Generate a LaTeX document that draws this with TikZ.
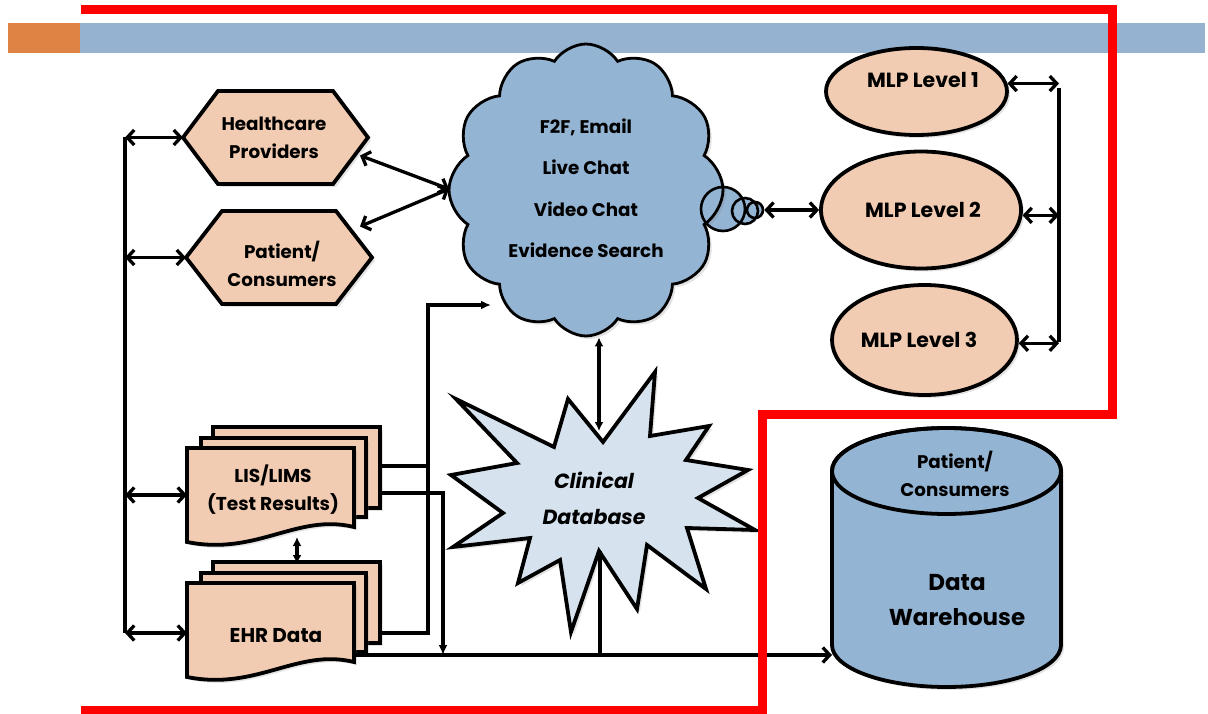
\documentclass[tikz,border=0pt]{standalone}
\usepackage{fontspec}
\setmainfont{Poppins}
\usetikzlibrary{arrows.meta,calc,shapes.geometric,shapes.symbols,shadows}
\definecolor{bandblue}{RGB}{149,179,209}
\definecolor{bandorange}{RGB}{222,131,68}
\definecolor{peach}{RGB}{241,204,178}
\definecolor{skyfill}{RGB}{148,180,211}
\definecolor{starfill}{RGB}{214,227,239}
\definecolor{framered}{RGB}{255,0,0}
\begin{document}
\begin{tikzpicture}[x=1pt,y=-1pt,
  geo/.style={rectangle,inner sep=0pt,outer sep=0pt},
  shad/.style={drop shadow={shadow xshift=3pt,shadow yshift=-3pt,opacity=0.22}},
  blk/.style={draw=black,line width=3.8pt,line join=miter},
  hexa/.style={blk,fill=peach,shad},
  docpage/.style={blk,fill=peach,shad},
  ell/.style={ellipse,draw=black,line width=3.8pt,fill=peach,inner sep=0pt,shad},
  bub/.style={circle,draw=black,line width=2.6pt,inner sep=0pt},
  txt/.style={font=\bfseries\fontsize{18.3}{28}\selectfont,align=center,inner sep=0pt},
  lvltxt/.style={font=\bfseries\fontsize{20.5}{28}\selectfont,align=center,inner sep=0pt},
  cloudtxt/.style={font=\bfseries\fontsize{18.3}{41.5}\selectfont,align=center,inner sep=0pt},
  startxt/.style={font=\bfseries\itshape\fontsize{20.5}{36}\selectfont,align=center,inner sep=0pt},
  bigtxt/.style={font=\bfseries\fontsize{23}{35}\selectfont,align=center,inner sep=0pt},
  wire/.style={line width=3.3pt,line join=miter},
  dbl/.style={wire,{Straight Barb[length=7pt,width=15pt]}-{Straight Barb[length=7pt,width=15pt]}},
  fwd/.style={wire,-{Straight Barb[length=7pt,width=15pt]}},
  headed/.style={wire,-{Latex[length=10pt,width=9pt]}},
  dheaded/.style={wire,{Latex[length=9pt,width=9pt]}-{Latex[length=9pt,width=9pt]}}
]
\useasboundingbox (0,0) rectangle (1208,714);

% title band
\fill[bandorange] (8,23) rectangle (80,53);
\fill[bandblue] (80,23) rectangle (1205,53);

% hexagons
\node[geo,minimum width=185pt,minimum height=93pt] (hp) at (275.5,137.5) {};
\path[hexa] (hp.west) -- ($(hp.north west)+(35,0)$) -- ($(hp.north east)+(-35,0)$) -- (hp.east)
  -- ($(hp.south east)+(-35,0)$) -- ($(hp.south west)+(35,0)$) -- cycle;
\node[txt] (hpt) at (274,138) {Healthcare\\Providers};

\node[geo,minimum width=186pt,minimum height=93pt] (pc) at (279,257.5) {};
\path[hexa] (pc.west) -- ($(pc.north west)+(36,0)$) -- ($(pc.north east)+(-36,0)$) -- (pc.east)
  -- ($(pc.south east)+(-36,0)$) -- ($(pc.south west)+(36,0)$) -- cycle;
\node[txt] (pct) at (282,264) {Patient/\\Consumers};

% cloud with thought bubbles
\fill[skyfill] (723,209) circle[radius=22] (745,211) circle[radius=13] (755,210) circle[radius=8];
\node[cloud,cloud puffs=12,cloud puff arc=115,aspect=0.95,minimum width=274pt,minimum height=292pt,
  draw=black,line width=2.8pt,fill=skyfill,shad] (cl) at (586,190) {};
\node[bub,minimum size=44pt] (b1) at (723,209) {};
\node[bub,minimum size=26pt] (b2) at (745,211) {};
\node[bub,minimum size=16pt] (b3) at (755,210) {};
\node[cloudtxt] (clt) at (586,188) {F2F, Email\\Live Chat\\Video Chat\\Evidence Search};

% MLP levels
\node[ell,minimum width=181pt,minimum height=87pt] (m1) at (916.5,91.5) {};
\node[lvltxt] (m1t) at (923,80) {MLP Level 1};
\node[ell,minimum width=200pt,minimum height=117pt] (m2) at (921,210) {};
\node[lvltxt] (m2t) at (923,210) {MLP Level 2};
\node[ell,minimum width=185pt,minimum height=110pt] (m3) at (924.5,340) {};
\node[lvltxt] (m3t) at (919,340) {MLP Level 3};

% document stacks
\newcommand\docstack[2]{%
  \path[docpage] (#1+26,#2-21) rectangle (#1+193,#2+60);
  \path[docpage] (#1+14,#2-10) rectangle (#1+179,#2+69);
  \path[docpage] (#1,#2) -- (#1+167,#2) -- (#1+167,#2+79)
    .. controls (#1+110,#2+65) and (#1+70,#2+108) .. (#1,#2+94) -- cycle;}
\docstack{187}{448}
\node[geo,minimum width=167pt,minimum height=94pt] (lis) at (270.5,495) {};
\node[txt,font=\bfseries\fontsize{18.6}{28}\selectfont] (list) at (273,490) {LIS/LIMS\\(Test Results)};
\docstack{187}{583}
\node[geo,minimum width=167pt,minimum height=95pt] (ehr) at (270.5,631) {};
\node[lvltxt,font=\bfseries\fontsize{20}{28}\selectfont] (ehrt) at (276,636) {EHR Data};

% clinical database
\path[blk,fill=starfill,shad] (603,442) -- (655,372) -- (650,436) -- (709,426) -- (686,460) -- (748,470)
  -- (698,498) -- (755,530) -- (687,528) -- (706,589) -- (647,545) -- (637,609) -- (599,551)
  -- (571,632) -- (560,560) -- (518,583) -- (530,538) -- (453,547) -- (503,513) -- (451,475)
  -- (517,463) -- (456,399) -- (554,447) -- (568,399) -- cycle;
\node[startxt] (cdb) at (594,498) {Clinical\\Database};
\coordinate (sTop) at (599,431);
\coordinate (sBot) at (600,551);

% data warehouse
\node[geo,minimum width=229pt,minimum height=259pt] (dw) at (946.5,557.5) {};
\path[blk,fill=skyfill,shad] (832,471) -- (832,645) arc[start angle=180,end angle=0,x radius=114.5,y radius=42]
  -- (1061,471) arc[start angle=0,end angle=-180,x radius=114.5,y radius=43] -- cycle;
\draw[line width=3.8pt] (946.5,471) ellipse[x radius=114.5,y radius=43];
\node[txt] (dwtop) at (955,474) {Patient/\\Consumers};
\node[bigtxt] (dwt) at (957,600) {Data\\Warehouse};

% left bus
\coordinate (lbTop) at (125,137.5);
\coordinate (lbBot) at (125,633);
\draw[wire] (lbTop) -- (lbBot);
\draw[dbl] (lbTop) -- (hp.west);
\draw[dbl] (lbTop |- pc.west) -- (pc.west);
\draw[dbl] (lbTop |- lis.west) -- (lis.west);
\draw[dbl] (lbBot) -- (lbBot -| ehr.west);

% right bus
\coordinate (rbTop) at (1059,88);
\coordinate (rbBot) at (1059,342);
\draw[wire] (rbTop) -- (rbBot);
\draw[dbl] (m1.5) -- (m1.5 -| rbTop);
\draw[dbl] (m2.-3) -- (m2.-3 -| rbTop);
\draw[dbl] (m3.-2) -- (m3.-2 -| rbTop);

% cloud links
\coordinate (clW) at (449,189);
\coordinate (hpSE) at ($(hp.east)+(-8,18)$);
\coordinate (pcNE) at ($(pc.east)+(-12,-31)$);
\draw[dbl] (clW) -- (hpSE);
\draw[dbl] (clW) -- (pcNE);
\draw[dbl] (b3.east) -- (m2.west);
\draw[dheaded] (sTop |- cl.south) -- (sTop);

% data flows from the record stacks
\coordinate (lisO1) at (380,466);
\coordinate (lisO2) at (380,493);
\coordinate (ehrO1) at (380,633);
\coordinate (ehrO2) at (354,655);
\coordinate (riser) at (428,305);
\coordinate (clIn) at (491,305);
\coordinate (drop) at (443,655);
\draw[headed] (ehrO1) -| (riser) -- (clIn);
\draw[wire] (lisO1) -- (lisO1 -| riser);
\draw[headed] (lisO2) -| (drop);
\draw[dheaded] (297,537) -- (297,564);
\draw[fwd] (ehrO2) -- (ehrO2 -| dw.west);
\draw[wire] (sBot) -- (sBot |- ehrO2);

% highlight frame
\draw[framered,line width=9pt,line join=miter] (81,10) -- (1112,10) -- (1112,414) -- (762,414)
  -- (762,720) (762,710) -- (81,710) -- cycle;
\end{tikzpicture}
\end{document}
